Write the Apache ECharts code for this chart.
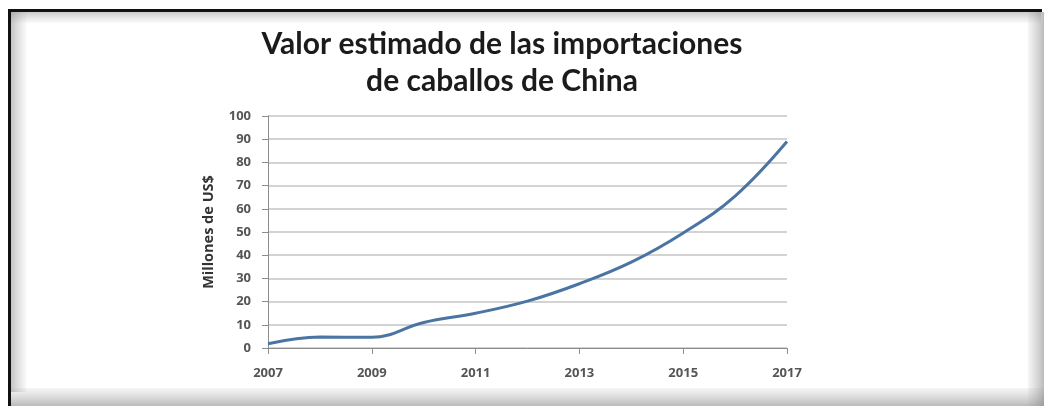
<!DOCTYPE html>
<html><head><meta charset="utf-8">
<script src="https://cdn.jsdelivr.net/npm/echarts@6/dist/echarts.min.js"></script>
<style>html,body{margin:0;padding:0;background:#fff}#c{width:1044px;height:406px}</style>
</head><body><div id="c"></div><script>
const years = ['2007','2008','2009','2010','2011','2012','2013','2014','2015','2016','2017'];
const values = [1.8, 4.7, 4.6, 11, 15, 20.2, 27.7, 37, 49.6, 65.5, 89];
const titleText = 'Valor estimado de las importaciones\nde caballos de China';
const yName = 'Millones de US$';

const chart = echarts.init(document.getElementById('c'));
function grad(x, y, w, h, vertical, c0, c1) {
  const g = vertical
    ? new echarts.graphic.LinearGradient(0, 0, 0, 1, [{offset:0,color:c0},{offset:1,color:c1}])
    : new echarts.graphic.LinearGradient(0, 0, 1, 0, [{offset:0,color:c0},{offset:1,color:c1}]);
  return {type:'rect', shape:{x, y, width:w, height:h}, style:{fill:g}, silent:true};
}
chart.setOption({
  backgroundColor: '#fff',
  animation: false,
  graphic: [
    grad(11, 12, 1030, 11, true, 'rgba(140,140,140,0.45)', 'rgba(160,160,160,0.05)'),
    grad(11, 12, 16, 380, false, 'rgba(140,140,140,0.5)', 'rgba(160,160,160,0.03)'),
    grad(11, 388, 1033, 18, true, 'rgba(160,160,160,0.1)', 'rgba(130,130,130,0.55)'),
    grad(1028, 12, 16, 394, false, 'rgba(160,160,160,0.1)', 'rgba(130,130,130,0.55)'),
    {type:'rect', shape:{x:8, y:9, width:1034, height:3}, style:{fill:'#111'}, silent:true},
    {type:'rect', shape:{x:8, y:9, width:3, height:397}, style:{fill:'#111'}, silent:true}
  ],
  title: {
    text: titleText,
    left: 497, top: 21, textAlign: 'center',
    textStyle: {fontFamily: 'Lato', fontSize: 30, fontWeight: 'bold', color: '#1b1b1b', lineHeight: 37}
  },
  grid: {left: 268, right: 257, top: 116, bottom: 58, containLabel: false},
  xAxis: {
    type: 'category', data: years, boundaryGap: false,
    axisLine: {lineStyle: {color: '#8c8c8c', width: 1}},
    axisTick: {show: true, interval: 1, length: 6, lineStyle: {color: '#8c8c8c'}},
    axisLabel: {interval: 1, margin: 19, fontFamily: 'Open Sans', fontSize: 13, fontWeight: 'bold', color: '#555'},
    splitLine: {show: false}
  },
  yAxis: {
    type: 'value', min: 0, max: 100, interval: 10,
    name: yName, nameLocation: 'middle', nameGap: 52,
    nameTextStyle: {fontFamily: 'Open Sans', fontSize: 14.5, fontWeight: 'bold', color: '#333'},
    axisLine: {show: true, lineStyle: {color: '#8c8c8c', width: 1}},
    axisTick: {show: true, length: 6, lineStyle: {color: '#8c8c8c'}},
    axisLabel: {margin: 17, fontFamily: 'Open Sans', fontSize: 13, fontWeight: 'bold', color: '#555'},
    splitLine: {lineStyle: {color: '#c4c4c4', width: 1.5}}
  },
  series: [{
    type: 'line', data: values, smooth: 0.4, symbol: 'none',
    lineStyle: {color: '#4a74a2', width: 3}
  }]
});
</script></body></html>
